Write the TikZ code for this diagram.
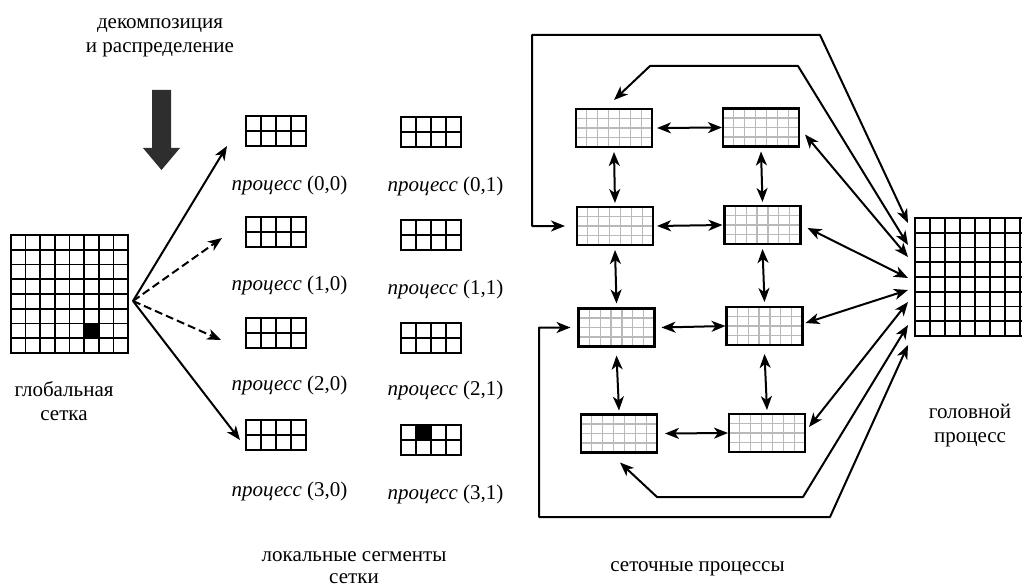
\documentclass[tikz,border=0pt]{standalone}
\usepackage{fontspec}
\setmainfont{Liberation Serif}
\usetikzlibrary{arrows.meta,calc}

% inner cell lines of a rectangular node: node, columns, rows, line style
\newcommand{\cellgrid}[4]{%
  \pgfmathtruncatemacro{\gcols}{#2-1}%
  \pgfmathtruncatemacro{\grows}{#3-1}%
  \foreach \k in {1,...,\gcols}{%
    \draw[#4] ($(#1.north west)!\k/#2!(#1.north east)$) -- ($(#1.south west)!\k/#2!(#1.south east)$);}%
  \foreach \k in {1,...,\grows}{%
    \draw[#4] ($(#1.north west)!\k/#3!(#1.south west)$) -- ($(#1.north east)!\k/#3!(#1.south east)$);}%
}

\begin{document}
\begin{tikzpicture}[x=1pt,y=-1pt,
  >={Stealth[length=14pt,width=11pt,inset=4pt]},
  lbl/.style={font=\fontsize{21}{24}\selectfont, inner sep=0pt, anchor=base, align=center},
  plbl/.style={font=\fontsize{21}{24}\selectfont, inner sep=0pt, anchor=base},
  globalgrid/.style={draw, line width=1.6pt, inner sep=0pt, outer sep=0pt, minimum width=117pt, minimum height=118pt},
  segment/.style={draw, line width=1.6pt, inner sep=0pt, outer sep=0pt, minimum width=60pt, minimum height=30pt},
  gproc/.style={inner sep=0pt, outer sep=0pt, minimum width=76pt, minimum height=38pt},
  headgrid/.style={draw, line width=1.7pt, inner sep=0pt, outer sep=0pt, minimum width=120pt, minimum height=118pt},
  thinblack/.style={line width=1.6pt},
  finegray/.style={line width=1.2pt, gray!55},
  procframe/.style={line width=2.8pt},
  conn/.style={line width=2pt, ->},
  dconn/.style={line width=2pt, <->, line join=round},
  dashline/.style={dash pattern=on 8pt off 4pt},
  bigarrow/.style={fill=black!82}
]
\useasboundingbox (0,0) rectangle (1022,588);

% ---------- decomposition caption and thick arrow ----------
\node[lbl] (tdec) at (160,53) {декомпозиция\\и распределение};
\fill[bigarrow] (152,90) -- (171,90) -- (171,148) -- (180,148) -- (161.5,170)
  -- (143,148) -- (152,148) -- cycle;

% ---------- global grid ----------
\node[globalgrid] (G) at (69.5,294) {};
\cellgrid{G}{8}{8}{thinblack}
\fill ($(G.north west)+(73.1,88.5)$) rectangle ($(G.north west)+(87.75,103.25)$);
\node[lbl] (tg) at (64,420) {глобальная\\сетка};

% ---------- local segments ----------
\node[segment] (L00) at (276,131) {};
\node[segment] (L10) at (276,232) {};
\node[segment] (L20) at (276,333) {};
\node[segment] (L30) at (276,435) {};
\node[segment] (L01) at (431,132) {};
\node[segment] (L11) at (431,235) {};
\node[segment] (L21) at (431,338) {};
\node[segment] (L31) at (431,440) {};
\foreach \n in {L00,L10,L20,L30,L01,L11,L21,L31}{\cellgrid{\n}{4}{2}{thinblack}}
\fill ($(L31.north west)+(15,0)$) rectangle ($(L31.north west)+(30,15)$);

\node[plbl] (n00) at (289.5,190) {\textit{процесс} (0,0)};
\node[plbl] (n10) at (289.5,290) {\textit{процесс} (1,0)};
\node[plbl] (n20) at (289.5,390) {\textit{процесс} (2,0)};
\node[plbl] (n30) at (289.5,496) {\textit{процесс} (3,0)};
\node[plbl] (n01) at (445.5,192) {\textit{процесс} (0,1)};
\node[plbl] (n11) at (445.5,294) {\textit{процесс} (1,1)};
\node[plbl] (n21) at (445.5,395) {\textit{процесс} (2,1)};
\node[plbl] (n31) at (445.5,499) {\textit{процесс} (3,1)};
\node[lbl, font=\fontsize{21}{22}\selectfont] (tloc) at (354,583) {локальные сегменты\\сетки};

% distribution arrows
\coordinate (src) at (133,301);
\draw[conn] (src) -- ([shift={(-19,0)}]L00.south west);
\draw[conn,dashline] (src) -- ([shift={(-24,6)}]L10.west);
\draw[conn,dashline] (src) -- ([shift={(-25,7)}]L20.west);
\draw[conn] (src) -- ([shift={(-6,5)}]L30.west);

% ---------- grid processes ----------
\node[gproc] (P00) at (614,128) {};
\node[gproc] (P01) at (761,127.5) {};
\node[gproc] (P10) at (615,226) {};
\node[gproc] (P11) at (762.5,225) {};
\node[gproc] (P20) at (616.5,327.5) {};
\node[gproc] (P21) at (764.5,326) {};
\node[gproc] (P30) at (619,433.5) {};
\node[gproc] (P31) at (767,433) {};
\foreach \n in {P00,P01,P10,P11,P20,P21,P30,P31}{%
  \cellgrid{\n}{7}{4}{finegray}
  \draw[procframe] (\n.north west) rectangle (\n.south east);}
\node[lbl] (tproc) at (697.5,571) {сеточные процессы};

% neighbour exchanges
\draw[dconn] ([xshift=5pt]P00.east) -- ([xshift=-1pt]P01.west);
\draw[dconn] ([xshift=4pt]P10.east) -- ([xshift=-2pt]P11.west);
\draw[dconn] ([xshift=7pt]P20.east) -- ([xshift=-1pt]P21.west);
\draw[dconn] ([xshift=8pt]P30.east) -- ([xshift=-1pt]P31.west);
\draw[dconn] ([yshift=-5pt]P00.south) -- ([yshift=4pt]P10.north);
\draw[dconn] ([yshift=-5pt]P01.south) -- ([yshift=4pt]P11.north);
\draw[dconn] ([yshift=-5pt]P10.south) -- ([yshift=5pt]P20.north);
\draw[dconn] ([yshift=-5pt]P11.south) -- ([yshift=5pt]P21.north);
\draw[dconn] ([yshift=-9pt]P20.south) -- ([yshift=4pt]P30.north);
\draw[dconn] ([yshift=-9pt]P21.south) -- ([yshift=4pt]P31.north);

% ---------- head process ----------
\begin{scope}
  \clip (0,0) rectangle (1022,588);
  \node[headgrid] (H) at (975,277) {};
  \cellgrid{H}{8}{8}{thinblack}
\end{scope}
\node[lbl] (thead) at (970,442) {головной\\процесс};

\coordinate (h1) at ([shift={(-7,5)}]H.north west);
\coordinate (h2) at ([shift={(-7,27)}]H.north west);
\coordinate (h3) at ([shift={(-7,39)}]H.north west);
\coordinate (h4) at ([shift={(-7,60)}]H.north west);
\coordinate (h5) at ([shift={(-7,72)}]H.north west);
\coordinate (h6) at ([shift={(-7,84)}]H.north west);
\coordinate (h7) at ([shift={(-7,107)}]H.north west);
\coordinate (h8) at ([shift={(-7,127)}]H.north west);

% exchanges with the head process
\draw[dconn] (h1) -- (820,35) -- (532,35) |- ([xshift=-12pt]P10.west);
\draw[dconn] (h2) -- (798,66) -- (650,66) -- ([yshift=9pt]P00.north);
\draw[dconn] ([shift={(6,7)}]P01.east) -- (h3);
\draw[dconn] ([shift={(7,3)}]P11.east) -- (h4);
\draw[dconn] ([shift={(3,-3)}]P21.east) -- (h5);
\draw[dconn] ([shift={(4,-6)}]P31.east) -- (h6);
\draw[dconn] (h7) -- (803,497) -- (657,497) -- ([shift={(1,10)}]P30.south);
\draw[dconn] (h8) -- (830,517) -- (539,517) |- ([xshift=-8pt]P20.west);
\end{tikzpicture}
\end{document}
